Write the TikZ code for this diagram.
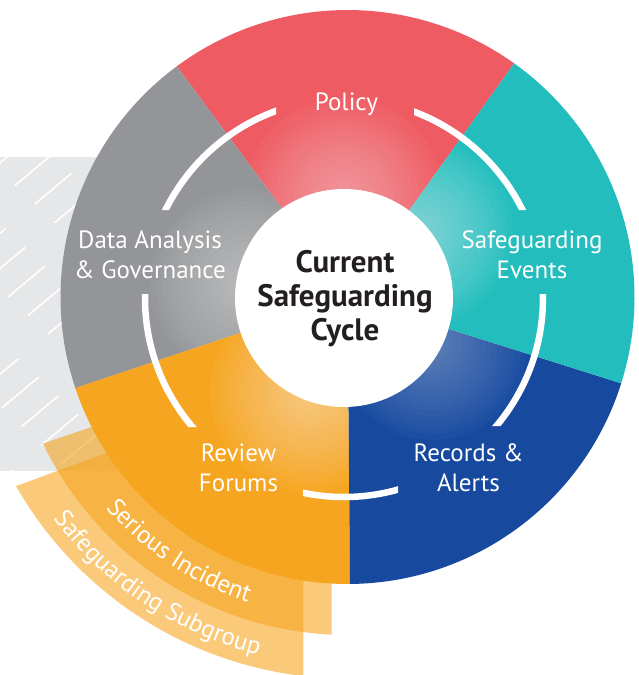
\documentclass[tikz,border=0pt]{standalone}
\usepackage{fontspec}
\setmainfont{PT Sans}
\usetikzlibrary{decorations.text}
\definecolor{bggray}{HTML}{E6E7E8}
\definecolor{polred}{HTML}{EF5B63}
\definecolor{evteal}{HTML}{22BDBC}
\definecolor{recblue}{HTML}{174A9F}
\definecolor{revorange}{HTML}{F6A520}
\definecolor{datagray}{HTML}{939598}
\definecolor{titleink}{HTML}{231F20}
\newcommand\labfont{\fontsize{25}{30}\selectfont}
\newcommand\titlefont{\fontsize{31}{34}\selectfont\bfseries}
\newcommand\myglow[3]{\pgfmathsetmacro\glowa{1-(1-#3)^(1/16)}%
  \foreach \k in {1,...,16}{\fill[white,fill opacity=\glowa] #1 circle ({#2*\k/16});}}
\begin{document}
\begin{tikzpicture}[x=1pt,y=1pt,
  lab/.style={text=white, font=\labfont, align=center, anchor=base, inner sep=0pt},
  title/.style={text=titleink, font=\titlefont, align=center, anchor=base, inner sep=0pt},
  band/.style={fill=revorange, fill opacity=0.6},
  bandtext/.style={decorate, decoration={text along path, text align=center, text color=white, text={|\labfont|#1}}}]
\useasboundingbox (0,0) rectangle (638,-675);
% hatched background panel
\begin{scope}
  \clip (0,-157.3) rectangle (340,-471);
  \fill[bggray] (0,-157.3) rectangle (340,-471);
  \foreach \k in {0,...,24}{
    \pgfmathsetmacro\ph{mod(\k*29,86)}
    \draw[white, line width=1.6pt, dash pattern=on 48pt off 38pt, dash phase=\ph pt]
      ({-420+\k*42},-480) -- ++(40:620);
  }
\end{scope}
\begin{scope}[shift={(347.5,-297)}]
  % outer orange bands
  \path[band] (209.7:381.6) arc[start angle=209.7,end angle=263.35,radius=381.6]
     -- (-44.2,-100) -- (0,0) -- (-234,-153.2) -- cycle;
  \path[band] (205.7:338) arc[start angle=205.7,end angle=267.3,radius=338]
     -- (-15.9,-100) -- (0,0) -- (-215.2,-116) -- cycle;
  % wheel sectors
  \fill[polred] (0,0) -- (54.5:287) arc[start angle=54.5,end angle=126.5,radius=287] -- cycle;
  \fill[datagray] (0,0) -- (126.5:287) arc[start angle=126.5,end angle=198.5,radius=287] -- cycle;
  \fill[revorange] (0,0) -- (198.5:287) arc[start angle=198.5,end angle=270.5,radius=287] -- cycle;
  \fill[recblue] (0,0) -- (270.5:287) arc[start angle=270.5,end angle=342.5,radius=287] -- cycle;
  \fill[evteal] (0,0) -- (-17.5:287) arc[start angle=-17.5,end angle=54.5,radius=287] -- cycle;
  % glows
  \begin{scope}\clip (0,0) -- (54.5:287) arc[start angle=54.5,end angle=126.5,radius=287] -- cycle;
    \myglow{([shift={(-3.5,-1)}]90:100)}{100}{0.4}\end{scope}
  \begin{scope}\clip (0,0) -- (126.5:287) arc[start angle=126.5,end angle=198.5,radius=287] -- cycle;
    \myglow{([shift={(-3.5,-1)}]172:100)}{95}{0.4}\end{scope}
  \begin{scope}\clip (0,0) -- (198.5:287) arc[start angle=198.5,end angle=270.5,radius=287] -- cycle;
    \myglow{([shift={(-3.5,-1)}]250:100)}{100}{0.45}\end{scope}
  \begin{scope}\clip (0,0) -- (270.5:287) arc[start angle=270.5,end angle=342.5,radius=287] -- cycle;
    \myglow{([shift={(-3.5,-1)}]332:100)}{95}{0.3}\end{scope}
  \begin{scope}\clip (0,0) -- (-17.5:287) arc[start angle=-17.5,end angle=54.5,radius=287] -- cycle;
    \myglow{([shift={(-3.5,-1)}]42:100)}{95}{0.45}\end{scope}
  % band texts
  \path[bandtext={Serious Incident}] (206.5:321) arc[start angle=206.5,end angle=266.5,radius=321];
  \path[bandtext={Safeguarding Subgroup}] (206.5:368.5) arc[start angle=206.5,end angle=266.5,radius=368.5];
\end{scope}
% white ring with gaps
\begin{scope}[even odd rule]
  \clip (0,0) rectangle (638,-675)
    (276,-80) rectangle (414,-130)
    (100,-210) rectangle (200,-294)
    (488,-210) rectangle (588,-294)
    (150,-427) rectangle (303,-520)
    (398,-426) rectangle (560,-520);
  \draw[white, line width=6.5pt] (344,-298) circle (199);
\end{scope}
% centre
\fill[white] (344,-298) circle (109);
% labels (anchor = baseline of the last line)
\node[lab] (policy) at (346.5,-110) {Policy};
\node[lab] (events) at (532,-278) {Safeguarding\\Events};
\node[lab] (data) at (150,-278) {Data Analysis\\\& Governance};
\node[lab] (review) at (238.5,-491.7) {Review\\Forums};
\node[lab] (records) at (468.5,-491.7) {Records \&\\Alerts};
\node[title] (cycle) at (345,-340) {Current\\Safeguarding\\Cycle};
\end{tikzpicture}
\end{document}
